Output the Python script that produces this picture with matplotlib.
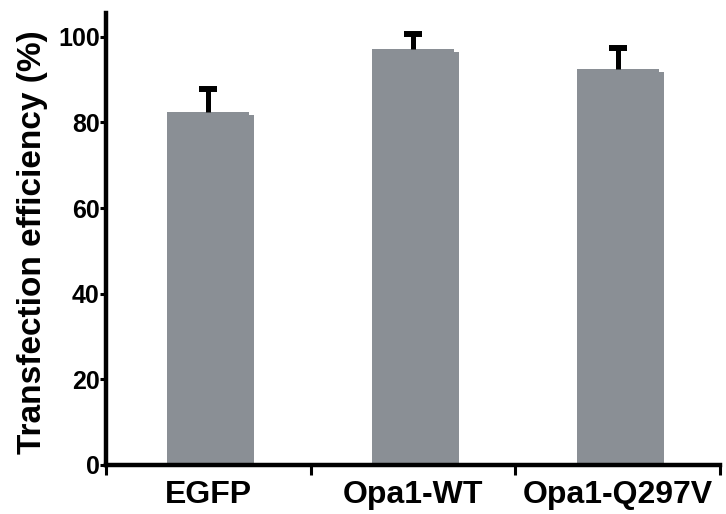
import numpy as np
import matplotlib
matplotlib.use('Agg')
import matplotlib.pyplot as plt

# data
groups = ['EGFP', 'Opa1-WT', 'Opa1-Q297V']
efficiency = [82.4, 97.2, 92.5]
sem = [5.3, 3.4, 4.8]
y_ticks = [0, 20, 40, 60, 80, 100]

plt.rcParams['font.family'] = ['Liberation Sans', 'DejaVu Sans']
plt.rcParams['font.weight'] = 'bold'

bar_color = '#8a8f95'
x_pos = np.arange(len(groups))
vals = np.array(efficiency)
err = np.array(sem)

fig = plt.figure(figsize=(7.26, 5.14), dpi=100)
ax = fig.add_axes([106 / 726, 49 / 514, 614 / 726, 452.3 / 514])

# little offset "shadow" step on the right of each bar, like the original
ax.bar(x_pos + 0.025, vals - 0.8, width=0.40, color=bar_color, zorder=1)
ax.bar(x_pos, vals, width=0.40, color=bar_color, zorder=2)
# upper error only: stem + cap at the top
ax.errorbar(x_pos, vals, yerr=[np.zeros(len(err)), err], fmt='none',
            ecolor='black', elinewidth=3.6, capsize=0, zorder=3)
ax.plot(x_pos, vals + err, linestyle='none', marker='_', markersize=13,
        markeredgewidth=4.3, color='black', zorder=3)

ax.set_xlim(-0.5, len(groups) - 0.5)
ax.set_ylim(0, 105.6)

for side in ['top', 'right']:
    ax.spines[side].set_visible(False)
for side in ['left', 'bottom']:
    ax.spines[side].set_linewidth(3.2)

ax.set_yticks(y_ticks)
ax.set_yticklabels([str(t) for t in y_ticks], fontsize=18, fontweight='bold')
ax.tick_params(axis='y', length=4, width=2.2, pad=0.5)

# boundary ticks on x, labels centred under the bars
ax.set_xticks(np.arange(len(groups) + 1) - 0.5)
ax.set_xticklabels([])
ax.tick_params(axis='x', which='major', length=7, width=2.2)
ax.set_xticks(x_pos, minor=True)
ax.set_xticklabels(groups, minor=True, fontsize=23, fontweight='bold')
ax.tick_params(axis='x', which='minor', length=0, pad=11)

ax.set_ylabel('Transfection efficiency (%)', fontsize=24, fontweight='bold')
ax.yaxis.set_label_coords(-0.094, 0.492)

fig.savefig('out.png', dpi=100)
